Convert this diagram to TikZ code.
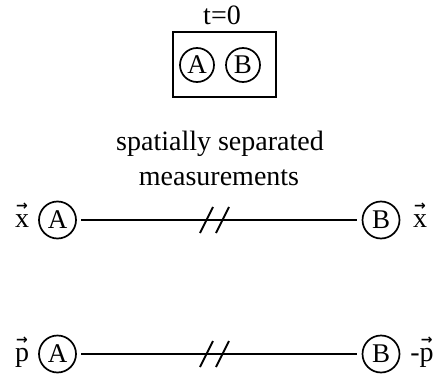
\documentclass[tikz,border=0pt]{standalone}
\usepackage{fontspec}
\setmainfont{Liberation Serif}
\newfontfamily\tms{Liberation Serif}
\newfontfamily\dvs{DejaVu Sans}
\newcommand\myvec[1]{\leavevmode\vbox{\offinterlineskip\halign{\hfil##\hfil\cr
  {\dvs\bfseries\fontsize{14}{14}\selectfont →}\cr\noalign{\kern 3.5pt}#1\cr}}}
\begin{document}
\begin{tikzpicture}[x=1pt,y=-1pt,
  every node/.style={font=\tms\fontsize{28}{34}\selectfont},
  circ/.style={draw, circle, minimum size=37pt, inner sep=0pt, line width=1.7pt, font=\tms\fontsize{27}{32}\selectfont},
  bcirc/.style={circ, minimum size=34pt},
  conn/.style={line width=2pt, shorten <=4.5pt, shorten >=4.5pt},
  slash/.style={line width=2pt},
  lbl/.style={anchor=base, inner sep=0pt}]
\useasboundingbox (0,0) rectangle (441,377);
% top
\node[lbl] (t0) at (222,25) {t=0};
\draw[line width=1.8pt] (173,32) rectangle (276,97);
\node[bcirc] (ca) at (197,65) {A};
\node[bcirc] (cb) at (243,65) {B};
% text
\node[lbl] (txt1) at (220,150) {spatially separated};
\node[lbl] (txt2) at (219,185) {measurements};
% row 1
\node[circ] (a1) at (57.5,220) {A};
\node[circ] (b1) at (381,220) {B};
\node[lbl] (xl) at (22,227) {\myvec{x}};
\node[lbl] (xr) at (420,227) {\myvec{x}};
\draw[conn] (a1) -- (b1);
\coordinate (s1) at (214.5,220);
\draw[slash] ([shift={(-14.5,13)}]s1) -- ([shift={(-1.5,-13)}]s1);
\draw[slash] ([shift={(1.5,13)}]s1) -- ([shift={(14.5,-13)}]s1);
% row 2
\node[circ] (a2) at (57.5,354) {A};
\node[circ] (b2) at (381,354) {B};
\node[lbl] (pl) at (22,361) {\myvec{p}};
\node[lbl] (pr) at (422,361) {-\myvec{p}};
\draw[conn] (a2) -- (b2);
\coordinate (s2) at (214.5,354);
\draw[slash] ([shift={(-14.5,13)}]s2) -- ([shift={(-1.5,-13)}]s2);
\draw[slash] ([shift={(1.5,13)}]s2) -- ([shift={(14.5,-13)}]s2);
\end{tikzpicture}
\end{document}
